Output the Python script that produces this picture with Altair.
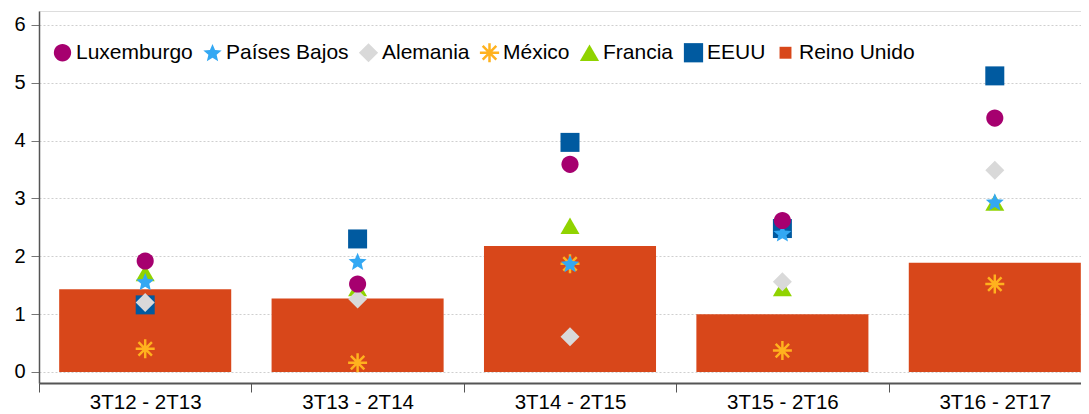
import altair as alt
import pandas as pd

categories = ["3T12 - 2T13", "3T13 - 2T14", "3T14 - 2T15", "3T15 - 2T16", "3T16 - 2T17"]

reino_unido = [1.43, 1.27, 2.18, 1.00, 1.89]
luxemburgo = [1.92, 1.52, 3.59, 2.62, 4.39]
paises_bajos = [1.56, 1.91, 1.87, 2.40, 2.94]
alemania = [1.20, 1.26, 0.61, 1.56, 3.49]
mexico = [0.40, 0.16, 1.87, 0.37, 1.52]
francia = [1.71, 1.45, 2.53, 1.45, 2.93]
eeuu = [1.16, 2.30, 3.97, 2.48, 5.12]

series_order = ["Luxemburgo", "Países Bajos", "Alemania", "México", "Francia", "EEUU", "Reino Unido"]
series_colors = ["#A6006F", "#33A8F3", "#D9D9D9", "#FFB21E", "#90D300", "#005AA0", "#D8471A"]

circle_path = "M0.9,0 A0.9,0.9 0 1,1 -0.9,0 A0.9,0.9 0 1,1 0.9,0 Z"
star_path = ("M0,-0.92 L0.265,-0.284 L0.951,-0.229 L0.428,0.219 L0.588,0.889 "
             "L0,0.53 L-0.588,0.889 L-0.428,0.219 L-0.951,-0.229 L-0.265,-0.284 Z")
asterisk_path = ("M-1,-0.13 L1,-0.13 L1,0.13 L-1,0.13 Z "
                 "M-0.13,-1 L0.13,-1 L0.13,1 L-0.13,1 Z "
                 "M-0.615,-0.799 L0.799,0.615 L0.615,0.799 L-0.799,-0.615 Z "
                 "M-0.799,0.615 L0.615,-0.799 L0.799,-0.615 L-0.615,0.799 Z")
small_square = "M-0.62,-0.62 L0.62,-0.62 L0.62,0.62 L-0.62,0.62 Z"
series_shapes = [circle_path, star_path, "diamond", asterisk_path, "triangle-up", "square", small_square]

draw_order = ["EEUU", "Francia", "México", "Alemania", "Países Bajos", "Luxemburgo"]
point_values = {
    "Luxemburgo": luxemburgo,
    "Países Bajos": paises_bajos,
    "Alemania": alemania,
    "México": mexico,
    "Francia": francia,
    "EEUU": eeuu,
}

rows = []
for s in draw_order:
    for c, v in zip(categories, point_values[s]):
        rows.append({"periodo": c, "serie": s, "valor": v})
points_df = pd.DataFrame(rows)
bars_df = pd.DataFrame({"periodo": categories, "serie": ["Reino Unido"] * len(categories), "valor": reino_unido})

FONT = "Liberation Sans"
X_RANGE = 1062
STEP = X_RANGE / len(categories)

color_scale = alt.Scale(domain=series_order, range=series_colors)
shape_scale = alt.Scale(domain=series_order, range=series_shapes)

x_enc = alt.X(
    "periodo:N",
    sort=categories,
    title=None,
    scale=alt.Scale(paddingInner=0.19, paddingOuter=0.095, range=[0, X_RANGE]),
    axis=alt.Axis(
        labelAngle=0,
        tickOffset=-STEP / 2,
        labelOffset=STEP / 2,
        tickSize=9,
        tickColor="#555555",
        domainColor="#555555",
        domainWidth=2,
        labelFontSize=20.5,
        labelFont=FONT,
        labelColor="#000000",
        labelPadding=0,
        grid=False,
    ),
)

y_axis = alt.Axis(
    values=[0, 1, 2, 3, 4, 5, 6],
    title=None,
    grid=True,
    gridDash=[2, 2],
    gridColor="#cfcfcf",
    gridWidth=1,
    tickSize=8,
    tickColor="#777777",
    domainColor="#555555",
    domainWidth=1.5,
    labelFontSize=20,
    labelFont=FONT,
    labelColor="#000000",
    labelPadding=6,
)
y_scale = alt.Scale(domain=[-0.191, 6.242], nice=False, zero=False)

legend = alt.Legend(
    title=None,
    orient="none",
    legendX=13,
    legendY=31,
    direction="horizontal",
    columns=7,
    labelFontSize=21,
    labelFont=FONT,
    labelColor="#000000",
    labelOffset=3,
    columnPadding=9,
    symbolSize=370,
    symbolStrokeWidth=0,
    padding=0,
)

bars = alt.Chart(bars_df).mark_bar(opacity=1).encode(
    x=x_enc,
    y=alt.Y("valor:Q", scale=y_scale, axis=y_axis),
    y2=alt.datum(0),
    color=alt.Color("serie:N", scale=color_scale, legend=legend),
)

points = alt.Chart(points_df).mark_point(filled=True, opacity=1, size=361, strokeWidth=0).encode(
    x=x_enc,
    y=alt.Y("valor:Q", scale=y_scale, axis=y_axis),
    color=alt.Color("serie:N", scale=color_scale, legend=legend),
    shape=alt.Shape("serie:N", scale=shape_scale, legend=legend),
)

chart = alt.layer(bars, points).properties(
    width=1042,
    height=372,
    autosize=alt.AutoSizeParams(type="none"),
    padding={"left": 31, "top": 3, "right": 0, "bottom": 30},
).configure_view(stroke=None).configure(background="#ffffff")

chart.save("out.html", embed_options={"renderer": "svg", "actions": False})
